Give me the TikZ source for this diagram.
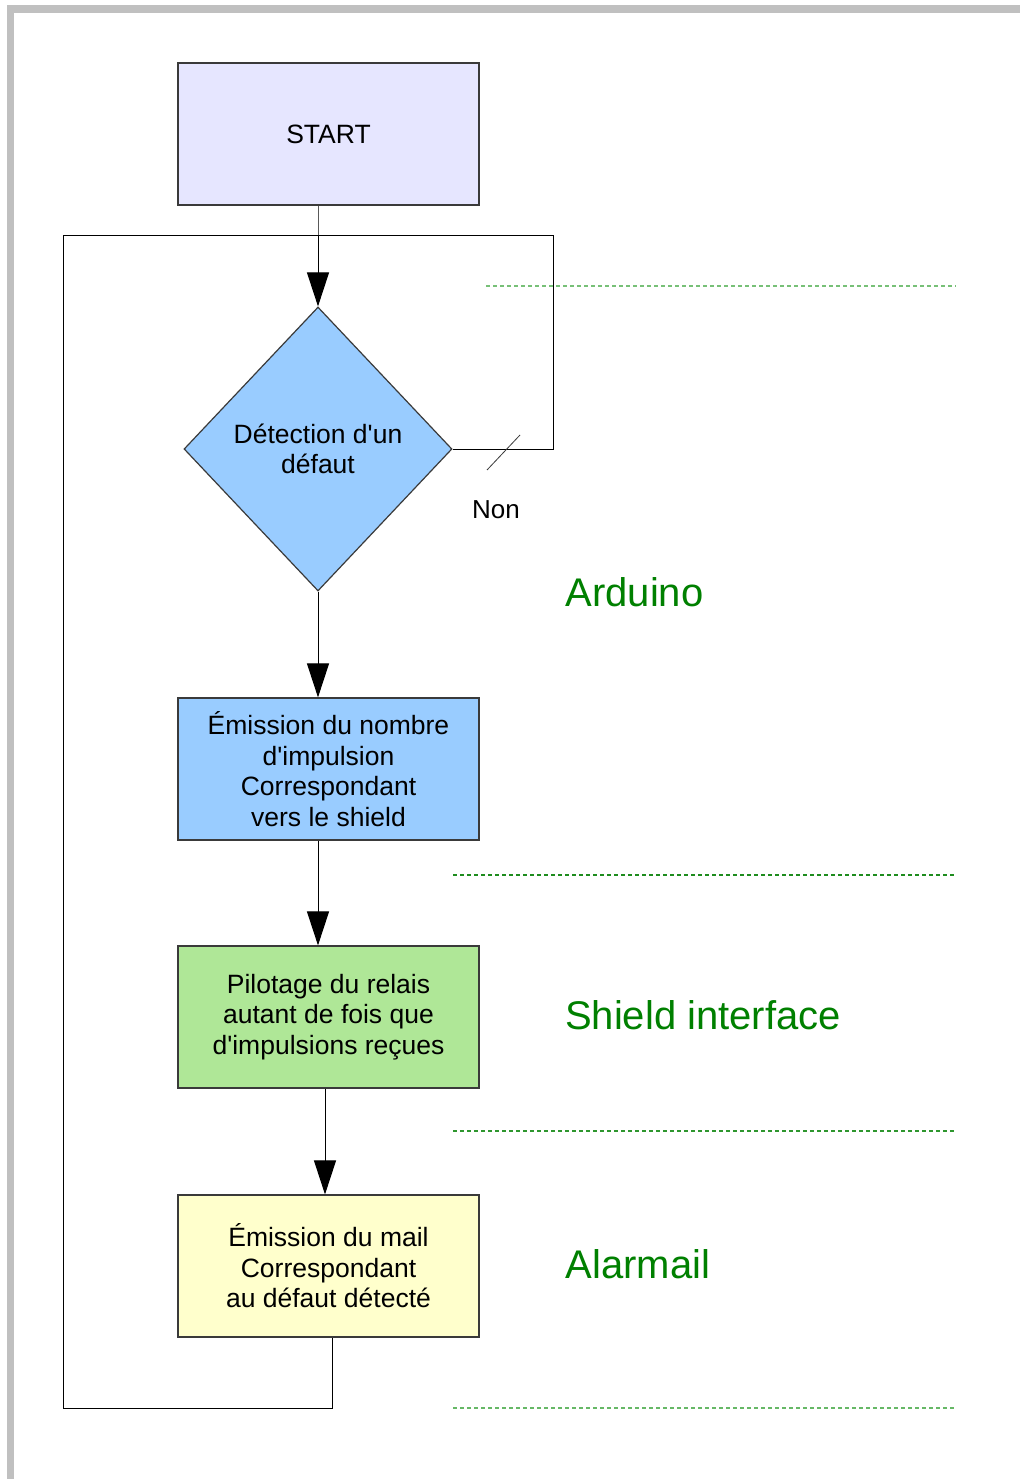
\documentclass[tikz,border=0pt]{standalone}
\usepackage{fontspec}
\setmainfont{Liberation Sans}
\usetikzlibrary{shapes.geometric,arrows.meta}
\definecolor{bordergray}{HTML}{C0C0C0}
\definecolor{startfill}{HTML}{E6E6FF}
\definecolor{bluefill}{HTML}{99CCFF}
\definecolor{greenfill}{HTML}{AFE797}
\definecolor{yellowfill}{HTML}{FFFFCC}
\definecolor{labelgreen}{HTML}{008000}
\definecolor{dashA}{HTML}{77C077}
\definecolor{dashB}{HTML}{1E8C1E}
\definecolor{dashC}{HTML}{2E962E}
\definecolor{dashD}{HTML}{66B866}
\definecolor{edgedark}{HTML}{3A3A3A}
\newcommand{\apo}{\textquotesingle}
\tikzset{
  boxstyle/.style={draw=edgedark, line width=1.2pt, minimum width=301pt, minimum height=142pt,
    inner sep=0pt, align=center, font=\fontsize{26.5pt}{30.5pt}\selectfont},
  diastyle/.style={diamond, draw=edgedark, line width=1.2pt, fill=bluefill, minimum width=268pt,
    minimum height=284pt, inner sep=0pt, align=center, font=\fontsize{26.5pt}{30.5pt}\selectfont},
  flow/.style={line width=1pt, -{Triangle[width=22pt,length=34pt]}},
  loopline/.style={line width=1pt, black},
  sepline/.style={line width=1.2pt, dash pattern=on 4pt off 3pt},
  zonelabel/.style={text=labelgreen, font=\fontsize{40pt}{46pt}\selectfont, inner sep=0pt},
  plainlabel/.style={font=\fontsize{26pt}{30.5pt}\selectfont, inner sep=0pt}
}
\begin{document}
\begin{tikzpicture}[x=1pt,y=-1pt]
\useasboundingbox (0,0) rectangle (1020,1479);
\fill[white] (0,0) rectangle (1020,1479);
% page border
\fill[bordergray] (7,5) rectangle (1020,13);
\fill[bordergray] (7,5) rectangle (14,1479);

% nodes
\node[boxstyle, fill=startfill] (start) at (328.5,134) {START};
\node[diastyle] (dia) at (318,449) {Détection d\apo un\\défaut};
\node[boxstyle, fill=bluefill] (emis) at (328.5,769) {Émission du nombre\\d\apo impulsion\\Correspondant\\vers le shield};
\node[boxstyle, fill=greenfill] (pilot) at (328.5,1017) {Pilotage du relais\\autant de fois que\\d\apo impulsions reçues};
\node[boxstyle, fill=yellowfill] (mail) at (328.5,1266) {Émission du mail\\Correspondant\\au défaut détecté};

% coordinates
\coordinate (j1) at (318,236);
\coordinate (rtop) at (553,236);
\coordinate (rmid) at (553,449);
\coordinate (ltop) at (63,236);
\coordinate (lbot) at (63,1408);
\coordinate (mbot) at (332,1408);
\coordinate (tickA) at (487,470);
\coordinate (tickB) at (520,435);

% connectors
\draw[line width=1pt, gray!70!black] (start.south -| j1) -- (j1);
\draw[flow] (j1) -- (dia.north);
\draw[flow] (dia.south) -- (dia.south |- emis.north);
\draw[flow] (318,0 |- emis.south) -- (318,0 |- pilot.north);
\draw[flow] (325,0 |- pilot.south) -- (325,0 |- mail.north);
\draw[loopline] (dia.east) -- (rmid) -- (rtop) -- (ltop) -- (lbot) -- (mbot) -- (mbot |- mail.south);
\draw[line width=0.8pt, edgedark] (tickA) -- (tickB);
\node[plainlabel] (non) at (496,510) {Non};

% separators
\coordinate (s1a) at (486,286); \coordinate (s1b) at (956,286);
\coordinate (s2a) at (453,875); \coordinate (s2b) at (956,875);
\coordinate (s3a) at (453,1131); \coordinate (s3b) at (956,1131);
\coordinate (s4a) at (453,1408); \coordinate (s4b) at (956,1408);
\draw[sepline, dashA] (s1a) -- (s1b);
\draw[sepline, dashB] (s2a) -- (s2b);
\draw[sepline, dashC] (s3a) -- (s3b);
\draw[sepline, dashD] (s4a) -- (s4b);

% zone labels
\node[zonelabel] (ard) at (634.5,592) {Arduino};
\node[zonelabel] (shi) at (703,1015) {Shield interface};
\node[zonelabel] (ala) at (638,1264) {Alarmail};
\end{tikzpicture}
\end{document}
